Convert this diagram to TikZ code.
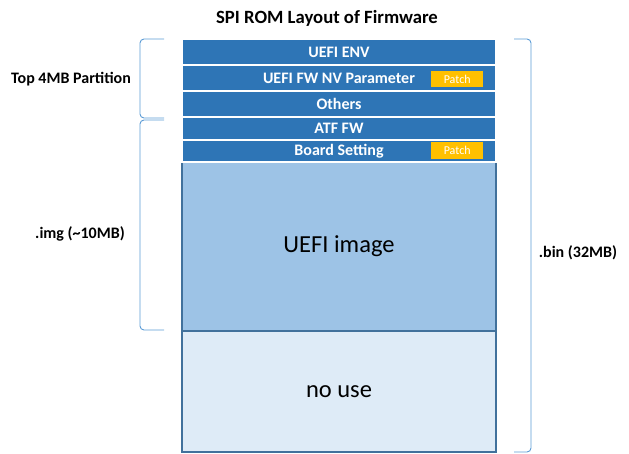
\documentclass[tikz,border=0pt]{standalone}
\usepackage{fontspec}
\setmainfont{Carlito}
\usetikzlibrary{calc}
\definecolor{rowblue}{HTML}{2E75B6}
\definecolor{imgblue}{HTML}{9DC3E6}
\definecolor{paleblue}{HTML}{DEEBF7}
\definecolor{edgeblue}{HTML}{41719C}
\definecolor{brblue}{HTML}{5B9BD5}
\definecolor{patchy}{HTML}{FFC000}
\tikzset{
  rowbox/.style={draw=white, line width=1.2pt, fill=rowblue, text=white, font=\fontsize{16}{18}\selectfont\bfseries,
    minimum width=314pt, inner sep=0pt, outer sep=0pt, anchor=north west},
  bigbox/.style={draw=edgeblue, line width=1.2pt, text=black, font=\fontsize{24.5}{28}\selectfont,
    minimum width=314pt, inner sep=0pt, outer sep=0pt, anchor=north west},
  patchbox/.style={fill=patchy, text=white, font=\fontsize{12}{14}\selectfont, minimum width=52pt,
    minimum height=16.5pt, inner sep=0pt, anchor=north west},
  sidelabel/.style={font=\fontsize{16}{18}\selectfont\bfseries, text=black, inner sep=0pt},
  bracketline/.style={draw=brblue, line width=0.9pt, rounded corners=4pt},
}
\begin{document}
\begin{tikzpicture}[x=1pt,y=-1pt]
\useasboundingbox (0,0) rectangle (629,453);
\node[font=\fontsize{18.7}{21}\selectfont\bfseries] (title) at (327,18) {SPI ROM Layout of Firmware};
\node[bigbox, fill=paleblue, minimum height=121pt] (nouse) at (182,331) {no use};
\node[bigbox, fill=imgblue, minimum height=169pt] (img) at (182,162) {UEFI image};
\node[rowbox, minimum height=26pt] (env) at (182,39) {UEFI ENV};
\node[rowbox, minimum height=26pt] (nv) at (182,65) {UEFI FW NV Parameter};
\node[rowbox, minimum height=26pt] (oth) at (182,91) {Others};
\node[rowbox, minimum height=23pt] (atf) at (182,117) {ATF FW};
\node[rowbox, minimum height=22pt] (board) at (182,140) {Board Setting};
\node[patchbox] (p1) at (431,70.5) {Patch};
\node[patchbox] (p2) at (431,142) {Patch};
% brackets
\coordinate (b1t) at ($(env.north west)+(-18,0)$);
\draw[bracketline] (b1t) -- ++(-24,0) -- ++(0,79) -- ++(24,0);
\coordinate (b2t) at ($(atf.north west)+(-18,3)$);
\coordinate (b2b) at ($(img.south west)+(-18,-1)$);
\draw[bracketline] (b2t) -- ++(-24,0) -- (b2b -| 140,0) -- (b2b);
\coordinate (b3t) at ($(env.north east)+(18,0)$);
\coordinate (b3b) at ($(nouse.south east)+(18,0)$);
\draw[bracketline] (b3t) -- ++(17,0) -- ($(b3b)+(17,0)$) -- (b3b);
\node[sidelabel] (l1) at (71,79) {Top 4MB Partition};
\node[sidelabel] (l2) at (80,233.5) {.img (\textasciitilde10MB)};
\node[sidelabel] (l3) at (578,253) {.bin (32MB)};
\end{tikzpicture}
\end{document}
